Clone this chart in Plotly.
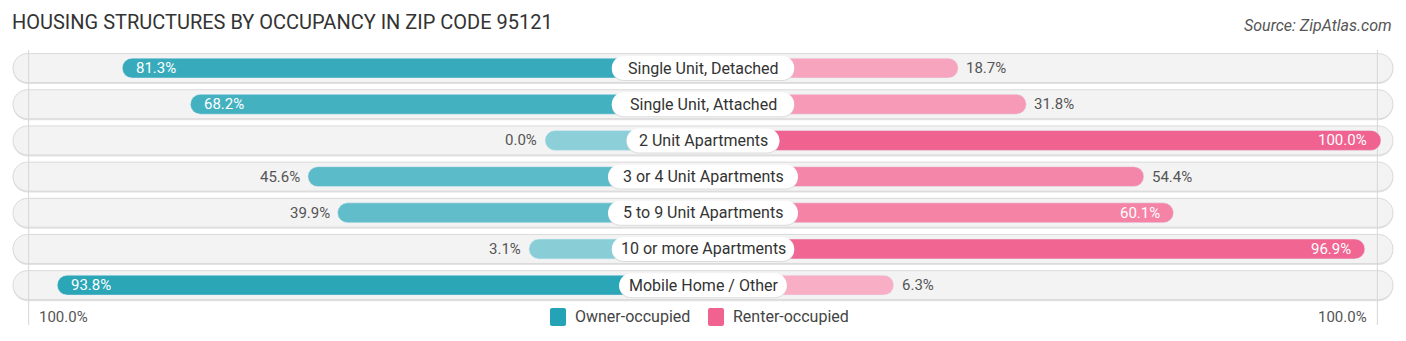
import plotly.graph_objects as go

categories = ["Single Unit, Detached", "Single Unit, Attached", "2 Unit Apartments",
              "3 or 4 Unit Apartments", "5 to 9 Unit Apartments", "10 or more Apartments",
              "Mobile Home / Other"]
owner = [81.3, 68.2, 0.0, 45.6, 39.9, 3.1, 93.8]
renter = [18.7, 31.8, 100.0, 54.4, 60.1, 96.9, 6.3]
title = "HOUSING STRUCTURES BY OCCUPANCY IN ZIP CODE 95121"
source = "Source: ZipAtlas.com"
legend_names = ["Owner-occupied", "Renter-occupied"]

W, H = 1406, 341
PX = 5.2              # pixels per percent
OFFSET = 158 / PX     # visual minimum bar length (behind label box)
XMAX = (W / 2) / PX
FONT = "Roboto"

def lerp(c1, c2, t):
    a = [int(c1[i:i + 2], 16) for i in (1, 3, 5)]
    b = [int(c2[i:i + 2], 16) for i in (1, 3, 5)]
    return "#" + "".join(f"{round(a[k] + (b[k] - a[k]) * t):02x}" for k in range(3))

OWN_LO, OWN_HI = "#8ccfd8", "#23a3b5"
REN_LO, REN_HI = "#f9b4c9", "#f0628f"
own_colors = [lerp(OWN_LO, OWN_HI, v / 100) for v in owner]
ren_colors = [lerp(REN_LO, REN_HI, v / 100) for v in renter]

n = len(categories)
ys = list(range(n))

fig = go.Figure()
fig.add_trace(go.Bar(y=ys, x=[-(OFFSET + v) for v in owner], base=0, orientation="h",
                     width=0.55, marker=dict(color=own_colors, cornerradius=10),
                     showlegend=False, hoverinfo="skip"))
fig.add_trace(go.Bar(y=ys, x=[OFFSET + v for v in renter], base=0, orientation="h",
                     width=0.55, marker=dict(color=ren_colors, cornerradius=10),
                     showlegend=False, hoverinfo="skip"))

def rounded_path(hw, hh, r, dy=0.0, dx=0.0):
    k = 0.5523 * r
    t, b = -hh + dy, hh + dy
    l, rr = -hw + dx, hw + dx
    return (f"M {l + r},{t} L {rr - r},{t} "
            f"C {rr - r + k},{t} {rr},{t + r - k} {rr},{t + r} "
            f"L {rr},{b - r} "
            f"C {rr},{b - r + k} {rr - r + k},{b} {rr - r},{b} "
            f"L {l + r},{b} "
            f"C {l + r - k},{b} {l},{b - r + k} {l},{b - r} "
            f"L {l},{t + r} "
            f"C {l},{t + r - k} {l + r - k},{t} {l + r},{t} Z")

shapes = []
for i in ys:
    shapes.append(dict(type="path", xref="x", yref="y", xsizemode="pixel", ysizemode="pixel",
                       xanchor=0, yanchor=i, path=rounded_path(690, 14.5, 14.5, dy=-1.5),
                       fillcolor="#e2e2e2", line=dict(width=0), layer="below"))
    shapes.append(dict(type="path", xref="x", yref="y", xsizemode="pixel", ysizemode="pixel",
                       xanchor=0, yanchor=i, path=rounded_path(690, 14.5, 14.5),
                       fillcolor="#f3f3f3", line=dict(color="#dadada", width=1), layer="below"))
for sx in (-1, 1):
    shapes.append(dict(type="line", xref="x", yref="y", x0=sx * (OFFSET + 99.3), x1=sx * (OFFSET + 99.3),
                       y0=-0.6, y1=7.1, line=dict(color="#d6d6d6", width=1), layer="below"))
for i, c in enumerate(categories):
    hw = (len(c) * 7.4 + 27) / 2
    shapes.append(dict(type="path", xref="x", yref="y", xsizemode="pixel", ysizemode="pixel",
                       xanchor=0, yanchor=i, path=rounded_path(hw, 12, 12, dy=-1),
                       fillcolor="#dcdcdc", line=dict(width=0), layer="above"))
    shapes.append(dict(type="path", xref="x", yref="y", xsizemode="pixel", ysizemode="pixel",
                       xanchor=0, yanchor=i, path=rounded_path(hw, 12, 12),
                       fillcolor="#ffffff", line=dict(width=0), layer="above"))

ann = []
for i, c in enumerate(categories):
    ann.append(dict(x=0, y=i, xref="x", yref="y", text=c, showarrow=False,
                    font=dict(family=FONT, size=16, color="#333333"), xanchor="center", yanchor="middle"))
THR = 57
for i, v in enumerate(owner):
    inside = v > THR
    ann.append(dict(x=-(OFFSET + v), y=i, xref="x", yref="y", text=f"{v:.1f}%", showarrow=False,
                    xanchor="left" if inside else "right", xshift=12 if inside else -6,
                    font=dict(family=FONT, size=15, color="#ffffff" if inside else "#555555"),
                    yanchor="middle"))
for i, v in enumerate(renter):
    inside = v > THR
    ann.append(dict(x=OFFSET + v, y=i, xref="x", yref="y", text=f"{v:.1f}%", showarrow=False,
                    xanchor="right" if inside else "left", xshift=-12 if inside else 6,
                    font=dict(family=FONT, size=15, color="#ffffff" if inside else "#555555"),
                    yanchor="middle"))
ann.append(dict(x=-(OFFSET + 100), y=6.88, xref="x", yref="y", text="100.0%", showarrow=False,
                xanchor="left", xshift=12, font=dict(family=FONT, size=15, color="#555555")))
ann.append(dict(x=OFFSET + 100, y=6.88, xref="x", yref="y", text="100.0%", showarrow=False,
                xanchor="right", xshift=-12, font=dict(family=FONT, size=15, color="#555555")))
ann.append(dict(x=1, y=1.089, xref="paper", yref="paper", text=source, showarrow=False,
                xanchor="right", xshift=-12, yanchor="middle",
                font=dict(family=FONT, size=16, color="#555555", style="italic")))

# legend (manual, centred under the chart)
leg_colors = [OWN_HI, REN_HI]
leg_x = [550, 708]
for name, col, lx in zip(legend_names, leg_colors, leg_x):
    shapes.append(dict(type="path", xref="x", yref="y", xsizemode="pixel", ysizemode="pixel",
                       xanchor=(lx + 8 - W / 2) / PX, yanchor=6.88,
                       path=rounded_path(8, 9, 2), fillcolor=col, line=dict(width=0), layer="above"))
    ann.append(dict(x=(lx + 23 - W / 2) / PX, y=6.88, xref="x", yref="y", text=name, showarrow=False,
                    xanchor="left", yanchor="middle",
                    font=dict(family=FONT, size=16, color="#444444")))

fig.update_layout(
    width=W, height=H,
    margin=dict(l=0, r=0, t=50, b=11),
    paper_bgcolor="#ffffff", plot_bgcolor="#ffffff",
    barmode="overlay", showlegend=False,
    title=dict(text=title, x=12 / W, xanchor="left", y=1 - 22 / H, yanchor="middle",
               xref="container", yref="container",
               font=dict(family=FONT, size=20, color="#333333")),
    xaxis=dict(range=[-XMAX, XMAX], visible=False, fixedrange=True),
    yaxis=dict(range=[7.24, -0.5], visible=False, fixedrange=True),
    shapes=shapes, annotations=ann,
    hovermode=False,
)
fig.write_html("out.html", config={"displayModeBar": False})
